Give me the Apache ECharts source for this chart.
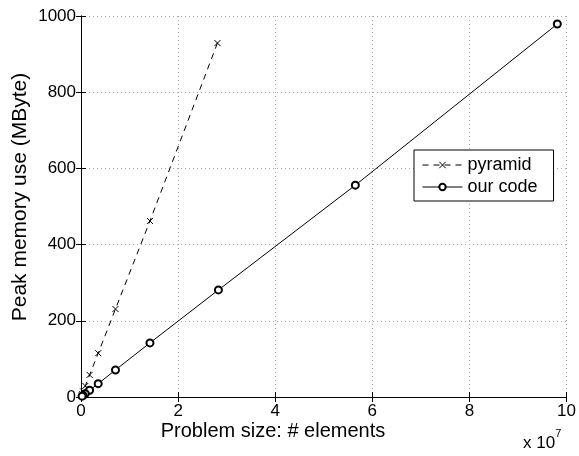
<!DOCTYPE html>
<html><head><meta charset="utf-8">
<script src="https://cdn.jsdelivr.net/npm/echarts@6/dist/echarts.min.js"></script>
<style>html,body{margin:0;padding:0;background:#fff}#c{width:579px;height:456px}</style>
</head><body><div id="c"></div>
<script>
// Problem size (# elements) and peak memory (MByte)
const pyramidX = [2.81e7, 1.42e7, 0.71e7, 0.355e7, 0.177e7, 0.089e7, 0.044e7, 0.022e7, 0.011e7];
const pyramidY = [929, 462, 231, 115, 58, 29, 14.5, 7.3, 3.6];
const ourX = [9.81e7, 5.65e7, 2.83e7, 1.42e7, 0.71e7, 0.354e7, 0.177e7, 0.088e7, 0.044e7, 0.022e7];
const ourY = [979, 556, 281, 142, 71, 35, 17.6, 8.8, 4.4, 2.2];
const xTicks = [0, 2, 4, 6, 8, 10];
const yTicks = [0, 200, 400, 600, 800, 1000];
const seriesNames = ['pyramid', 'our code'];
const xTitle = 'Problem size: # elements';
const yTitle = 'Peak memory use (MByte)';

const FONT = 'Liberation Sans';
const FS = 17;
const chart = echarts.init(document.getElementById('c'), null, {renderer: 'canvas'});
const zip = (a, b) => a.map((v, i) => [v, b[i]]);
const crossPath = 'path://M0,0L10,10M10,0L0,10';

const baseAxis = {
  axisLine: {show: true, lineStyle: {color: '#000', width: 1}},
  axisTick: {show: true, inside: true, length: 5, lineStyle: {color: '#000'}},
};
chart.setOption({
  animation: false,
  textStyle: {fontFamily: FONT},
  grid: {left: 81, right: 11, top: 16, bottom: 59, show: false},
  legend: {
    data: seriesNames,
    orient: 'vertical', left: 414, top: 150,
    backgroundColor: '#fff', borderColor: '#000', borderWidth: 1,
    padding: [6, 16, 5, 8], itemGap: 4, itemWidth: 40, itemHeight: 8,
    lineStyle: {width: 1},
    itemStyle: {borderWidth: 1},
    textStyle: {fontFamily: FONT, fontSize: 18, color: '#000'}
  },
  xAxis: [{
    ...baseAxis, type: 'value', min: 0, max: 1e8, interval: 2e7,
    axisLabel: {fontFamily: FONT, fontSize: FS, color: '#000', margin: 6,
      formatter: v => String(xTicks[Math.round(v / 2e7)])},
    splitLine: {show: true, lineStyle: {color: '#aaa', type: [1, 3], width: 1}}
  }, {
    ...baseAxis, type: 'value', position: 'top', min: 0, max: 1e8, interval: 2e7,
    axisLabel: {show: false}, splitLine: {show: false}
  }],
  yAxis: [{
    ...baseAxis, type: 'value', min: 0, max: 1000, interval: 200,
    axisLabel: {fontFamily: FONT, fontSize: FS, color: '#000', margin: 5,
      formatter: v => String(yTicks[Math.round(v / 200)])},
    splitLine: {show: true, lineStyle: {color: '#aaa', type: [1, 3], width: 1}}
  }, {
    ...baseAxis, type: 'value', position: 'right', min: 0, max: 1000, interval: 200,
    axisLabel: {show: false}, splitLine: {show: false}
  }],
  graphic: [{
    type: 'text', x: 273, y: 431,
    style: {text: xTitle, fontFamily: FONT, fontSize: 20, fill: '#000', align: 'center', verticalAlign: 'middle'}
  }, {
    type: 'text', x: 20, y: 197, rotation: Math.PI / 2,
    style: {text: yTitle, fontFamily: FONT, fontSize: 21, fill: '#000', align: 'center', verticalAlign: 'middle'}
  }, {
    type: 'text', left: 523, top: 428,
    style: {
      text: '{a|x 10}{s|7}', fill: '#000',
      rich: {
        a: {fontFamily: FONT, fontSize: FS, fill: '#000', verticalAlign: 'bottom', lineHeight: 24},
        s: {fontFamily: FONT, fontSize: 11, fill: '#000', verticalAlign: 'top', lineHeight: 24}
      }
    }
  }],
  series: [{
    name: seriesNames[0], type: 'line', data: zip(pyramidX, pyramidY),
    symbol: crossPath, symbolSize: 6,
    lineStyle: {color: '#000', width: 1, type: [6, 5]},
    itemStyle: {color: '#000', borderColor: '#000', borderWidth: 1}
  }, {
    name: seriesNames[1], type: 'line', data: zip(ourX, ourY),
    symbol: 'emptyCircle', symbolSize: 7,
    lineStyle: {color: '#000', width: 1},
    itemStyle: {color: '#000', borderColor: '#000', borderWidth: 1}
  }]
});
</script></body></html>
